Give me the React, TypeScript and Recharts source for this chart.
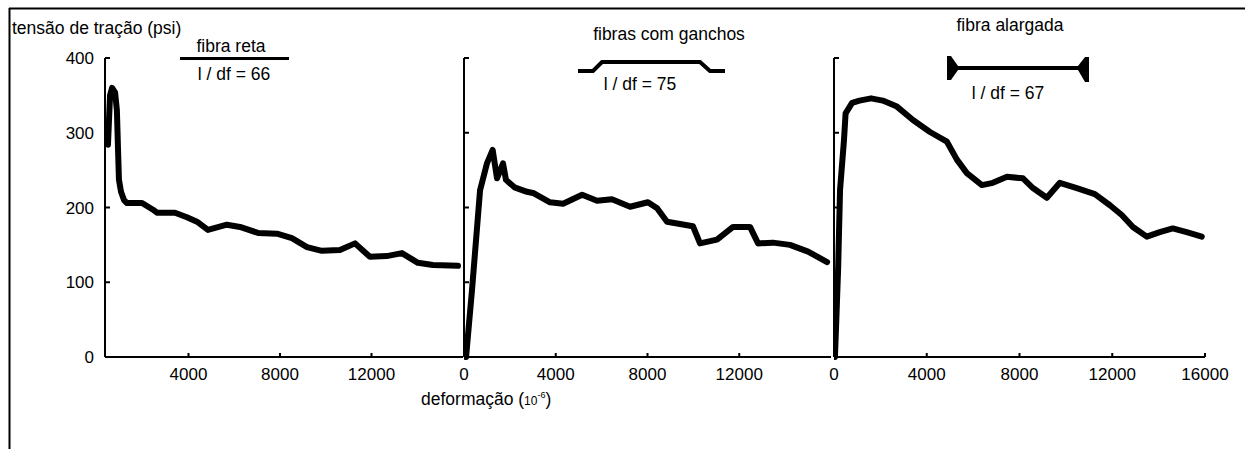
import React from 'react';
import { LineChart, Line, XAxis, YAxis } from 'recharts';

const W = 1245;
const H = 449;
const FONT = '"Liberation Sans", Arial, sans-serif';

// fibra reta, l/df = 66
const retaStrain = [480, 570, 660, 790, 870, 920, 960, 1050, 1180, 1310, 1970, 2450, 2620, 3410, 3930, 4370, 4850, 5680, 6250, 7040, 7870, 8520, 9180, 9830, 10620, 11280, 11930, 12670, 13330, 14030, 14680, 15780];
const retaStress = [284, 350, 360, 354, 330, 277, 237, 221, 210, 206, 206, 197, 193, 193, 187, 181, 170, 177, 174, 166, 165, 159, 147, 142, 143, 152, 134, 135, 139, 126, 123, 122];

// fibras com ganchos, l/df = 75
const ganchosStrain = [90, 350, 700, 1000, 1250, 1440, 1700, 1830, 2200, 2750, 3050, 3750, 4320, 5150, 5800, 6450, 7240, 8020, 8420, 8850, 9420, 9980, 10290, 11030, 11730, 12470, 12820, 13470, 14210, 15000, 15830];
const ganchosStress = [0, 90, 223, 259, 277, 239, 259, 237, 227, 221, 219, 207, 205, 217, 209, 211, 201, 207, 199, 181, 178, 175, 152, 157, 174, 174, 152, 153, 150, 141, 127];

// fibra alargada, l/df = 67
const alargadaStrain = [40, 100, 180, 260, 430, 500, 780, 1100, 1600, 2100, 2715, 3405, 4140, 4870, 5300, 5730, 6380, 6850, 7460, 8150, 8580, 9180, 9740, 10470, 11250, 11900, 12410, 12890, 13490, 14050, 14610, 15210, 15860];
const alargadaStress = [0, 50, 120, 223, 290, 326, 340, 343, 346, 343, 335, 317, 301, 288, 264, 246, 230, 233, 241, 239, 226, 213, 233, 226, 218, 203, 190, 174, 161, 167, 172, 167, 161];

const yTicks = [0, 100, 200, 300, 400];
const leftXTicks = [4000, 8000, 12000];
const midXTicks = [0, 4000, 8000, 12000];
const rightXTicks = [0, 4000, 8000, 12000, 16000];

const PLOT_TOP = 58;
const PLOT_BOTTOM = 357;

const toRows = (xs: number[], ys: number[]) => xs.map((x, i) => ({ x, y: ys[i] }));

const XTick = (props: any) => {
  const { x, y, payload } = props;
  return (
    <g>
      {payload.value !== 0 && <line x1={x} x2={x} y1={y} y2={y - 4} stroke="#000" strokeWidth={2} />}
      <text x={x} y={y + 23} textAnchor="middle" fontSize={17} fontFamily={FONT} fill="#000">
        {payload.value}
      </text>
    </g>
  );
};

const makeYTick = (showLabel: boolean) => (props: any) => {
  const { x, y, payload } = props;
  return (
    <g>
      {payload.value !== 0 && <line x1={x} x2={x + 5} y1={y} y2={y} stroke="#000" strokeWidth={2} />}
      {showLabel && (
        <text x={x - 11} y={y + 6} textAnchor="end" fontSize={17} fontFamily={FONT} fill="#000">
          {payload.value}
        </text>
      )}
    </g>
  );
};

type PanelProps = {
  rows: Array<{ x: number; y: number }>;
  left: number;
  right: number;
  domain: [number, number];
  xTicks: number[];
  showYLabels: boolean;
};

function Panel({ rows, left, right, domain, xTicks, showYLabels }: PanelProps) {
  return (
    <div style={{ position: 'absolute', left: 0, top: 0 }}>
      <LineChart
        width={W}
        height={H}
        data={rows}
        margin={{ top: PLOT_TOP, left: 0, right: W - right, bottom: 0 }}
      >
        <XAxis
          type="number"
          dataKey="x"
          domain={domain}
          ticks={xTicks}
          interval={0}
          height={H - PLOT_BOTTOM}
          tickSize={0}
          tickMargin={0}
          tickLine={false}
          axisLine={{ stroke: '#000', strokeWidth: 2 }}
          tick={XTick}
          allowDataOverflow
        />
        <YAxis
          type="number"
          domain={[0, 400]}
          ticks={yTicks}
          interval={0}
          width={left}
          tickSize={0}
          tickMargin={0}
          tickLine={false}
          axisLine={{ stroke: '#000', strokeWidth: 2 }}
          tick={makeYTick(showYLabels)}
        />
        <Line
          type="linear"
          dataKey="y"
          stroke="#000"
          strokeWidth={6}
          strokeLinejoin="round"
          strokeLinecap="round"
          dot={false}
          isAnimationActive={false}
        />
      </LineChart>
    </div>
  );
}

export default function App() {
  const txt = { fontFamily: FONT, fontSize: 17.5, fill: '#000' };
  return (
    <div style={{ position: 'absolute', left: 0, top: 0, width: W, height: H, background: '#fff', overflow: 'hidden' }}>
      <Panel rows={toRows(retaStrain, retaStress)} left={105} right={463} domain={[350, 16000]} xTicks={leftXTicks} showYLabels />
      <Panel rows={toRows(ganchosStrain, ganchosStress)} left={464} right={831} domain={[0, 16000]} xTicks={midXTicks} showYLabels={false} />
      <Panel rows={toRows(alargadaStrain, alargadaStress)} left={834} right={1205} domain={[0, 16000]} xTicks={rightXTicks} showYLabels={false} />

      <svg width={W} height={H} style={{ position: 'absolute', left: 0, top: 0, pointerEvents: 'none' }}>
        {/* frame */}
        <line x1={9} x2={W} y1={8.5} y2={8.5} stroke="#000" strokeWidth={2} />
        <line x1={9.5} x2={9.5} y1={8} y2={H} stroke="#000" strokeWidth={2} />

        <text x={12} y={34} {...txt}>tensão de tração (psi)</text>
        <text x={421} y={405} {...txt}>
          deformação (<tspan fontSize={12}>10</tspan>
          <tspan fontSize={9} dy={-7}>-6</tspan>
          <tspan dy={7}>)</tspan>
        </text>

        {/* fibra reta */}
        <text x={231} y={52} textAnchor="middle" {...txt}>fibra reta</text>
        <line x1={180} x2={289} y1={58.5} y2={58.5} stroke="#000" strokeWidth={3} />
        <text x={234} y={80} textAnchor="middle" {...txt}>l / df = 66</text>

        {/* fibras com ganchos */}
        <text x={669} y={40} textAnchor="middle" {...txt}>fibras com ganchos</text>
        <polyline points="578,71 593,71 602,62 700,62 710,71 725,71" fill="none" stroke="#000" strokeWidth={4} />
        <text x={640} y={90} textAnchor="middle" {...txt}>l / df = 75</text>

        {/* fibra alargada */}
        <text x={1010} y={31} textAnchor="middle" {...txt}>fibra alargada</text>
        <line x1={952} x2={1084} y1={68} y2={68} stroke="#000" strokeWidth={4} />
        <path d="M947,56 L951,56 L958,66 L958,70 L951,80 L947,80 Z" fill="#000" />
        <path d="M1089,57 L1085,57 L1078,66 L1078,70 L1085,82 L1089,82 Z" fill="#000" />
        <text x={1008} y={99} textAnchor="middle" {...txt}>l / df = 67</text>
      </svg>
    </div>
  );
}
